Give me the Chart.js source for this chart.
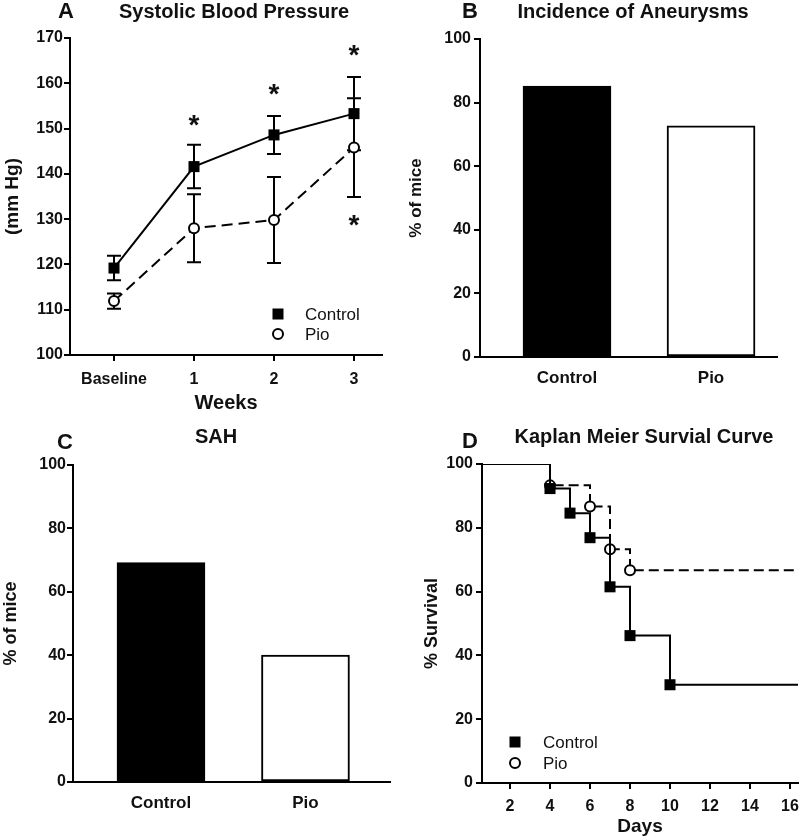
<!DOCTYPE html>
<html>
<head>
<meta charset="utf-8">
<script src="https://cdn.jsdelivr.net/npm/chart.js@4"></script>
<style>
  body { margin: 0; background: #fff; }
  #wrap { position: relative; width: 800px; height: 838px; }
  .panel { position: absolute; width: 400px; height: 419px; }
</style>
</head>
<body>
<div id="wrap">
  <div class="panel" style="left:0;top:0"><canvas id="chartA"></canvas></div>
  <div class="panel" style="left:400px;top:0"><canvas id="chartB"></canvas></div>
  <div class="panel" style="left:0;top:419px"><canvas id="chartC"></canvas></div>
  <div class="panel" style="left:400px;top:419px"><canvas id="chartD"></canvas></div>
</div>
<script>
// Panel A: systolic blood pressure
const weekLabels = ["Baseline", "1", "2", "3"];
const weekIdx = [0, 1, 2, 3];
const bpControl = [119.2, 141.6, 148.6, 153.3];
const bpControlErr = [2.7, 4.8, 4.2, 8.1];
const bpPio = [111.9, 128.0, 129.8, 145.8];
const bpPioErr = [1.7, 7.5, 9.5, 10.9];
const starWeek = [1, 2, 3, 3];
const starValue = [151.7, 158.7, 167.2, 129.8];

// Panels B and C: incidence bars
const groups = ["Control", "Pio"];
const aneurysmPct = [85.2, 72.7];
const sahPct = [69.2, 40.0];

// Panel D: Kaplan Meier
const kmControlDays = [0, 4, 5, 6, 7, 8, 10, 17];
const kmControlPct = [100, 92.3, 84.6, 76.9, 61.5, 46.2, 30.8, 30.8];
const kmPioDays = [0, 4, 6, 7, 8, 17];
const kmPioPct = [100, 93.3, 86.7, 73.3, 66.7, 66.7];
const dayTicks = [2, 4, 6, 8, 10, 12, 14, 16];

const FONT = "'Liberation Sans', Arial, sans-serif";
const INK = "#111";
Chart.defaults.font.family = FONT;
Chart.defaults.color = INK;
Chart.defaults.animation = false;
Chart.defaults.responsive = false;
Chart.defaults.plugins.legend.display = false;
Chart.defaults.plugins.tooltip.enabled = false;

function sized(id) {
  const c = document.getElementById(id);
  c.width = 400; c.height = 419;
  return c;
}

// fixes the axis box sizes so the plot area lands where the figure has it
function fitW(w) { return (s) => { s.width = w; s.paddingTop = 0; s.paddingBottom = 0; }; }
function fitH(h) { return (s) => { s.height = h; s.paddingLeft = 0; s.paddingRight = 0; }; }

const tickFont = { size: 16, weight: "bold" };
const titleFont = { size: 19, weight: "bold" };

function yAxis(min, max, step, width, title, tSize, tPad, lPad) {
  return {
    min, max,
    ticks: { stepSize: step, font: tickFont, padding: lPad, color: INK },
    grid: { drawOnChartArea: false, drawTicks: true, tickLength: 6, color: "#000", lineWidth: 2 },
    border: { color: "#000", width: 2 },
    title: { display: true, text: title, font: { size: tSize, weight: "bold" }, padding: { top: tPad, bottom: 0 } },
    afterFit: fitW(width),
  };
}

// text pieces: panel letters and titles
const textPlugin = {
  id: "panelText",
  afterDraw(chart, args, opts) {
    const ctx = chart.ctx;
    ctx.save();
    (opts.items || []).forEach((t) => {
      ctx.font = t.font;
      ctx.fillStyle = INK;
      ctx.textAlign = t.align || "center";
      ctx.textBaseline = "middle";
      ctx.fillText(t.text, t.x, t.y);
    });
    ctx.restore();
  },
};

// small legend inside the plot
const keyPlugin = {
  id: "keyBox",
  afterDraw(chart, args, opts) {
    if (!opts.rows) return;
    const ctx = chart.ctx;
    ctx.save();
    opts.rows.forEach((r, i) => {
      const y = opts.y + i * opts.gap;
      ctx.lineWidth = 2;
      ctx.strokeStyle = "#000";
      if (r.shape === "rect") {
        ctx.fillStyle = "#000";
        ctx.fillRect(opts.x - 5.5, y - 5.5, 11, 11);
      } else {
        ctx.fillStyle = "#fff";
        ctx.beginPath();
        ctx.arc(opts.x, y, 5, 0, Math.PI * 2);
        ctx.fill();
        ctx.stroke();
      }
      ctx.fillStyle = INK;
      ctx.font = "17px " + FONT;
      ctx.textAlign = "left";
      ctx.textBaseline = "middle";
      ctx.fillText(r.label, opts.x + opts.textGap, y + 1);
    });
    ctx.restore();
  },
};

// error bars and significance stars for panel A
const errorPlugin = {
  id: "errBars",
  beforeDatasetsDraw(chart) {
    const ctx = chart.ctx;
    const xs = chart.scales.x, ys = chart.scales.y;
    ctx.save();
    ctx.strokeStyle = "#000";
    ctx.lineWidth = 2;
    chart.data.datasets.forEach((ds) => {
      if (!ds.errors) return;
      ds.data.forEach((p, i) => {
        const px = xs.getPixelForValue(p.x);
        const top = ys.getPixelForValue(p.y + ds.errors[i]);
        const bot = ys.getPixelForValue(p.y - ds.errors[i]);
        ctx.beginPath();
        ctx.moveTo(px, top); ctx.lineTo(px, bot);
        ctx.moveTo(px - 7, top); ctx.lineTo(px + 7, top);
        ctx.moveTo(px - 7, bot); ctx.lineTo(px + 7, bot);
        ctx.stroke();
      });
    });
    ctx.restore();
  },
  afterDatasetsDraw(chart, args, opts) {
    if (!opts.starX) return;
    const ctx = chart.ctx;
    const xs = chart.scales.x, ys = chart.scales.y;
    ctx.save();
    ctx.font = "bold 28px " + FONT;
    ctx.fillStyle = INK;
    ctx.textAlign = "center";
    ctx.textBaseline = "alphabetic";
    const m = ctx.measureText("*");
    const shift = (m.actualBoundingBoxAscent - m.actualBoundingBoxDescent) / 2;
    opts.starX.forEach((w, i) => {
      ctx.fillText("*", xs.getPixelForValue(w), ys.getPixelForValue(opts.starY[i]) + shift);
    });
    ctx.restore();
  },
};

Chart.register(textPlugin, keyPlugin);

// ---------- A ----------
new Chart(sized("chartA"), {
  type: "line",
  data: {
    datasets: [
      {
        label: "Control",
        data: weekIdx.map((w, i) => ({ x: w, y: bpControl[i] })),
        errors: bpControlErr,
        borderColor: "#000", borderWidth: 2,
        pointStyle: "rect", pointRadius: 7.8,
        pointBackgroundColor: "#000", pointBorderColor: "#000", pointBorderWidth: 0,
      },
      {
        label: "Pio",
        data: weekIdx.map((w, i) => ({ x: w, y: bpPio[i] })),
        errors: bpPioErr,
        borderColor: "#000", borderWidth: 2, borderDash: [11, 6],
        pointStyle: "circle", pointRadius: 5,
        pointBackgroundColor: "#fff", pointBorderColor: "#000", pointBorderWidth: 2,
      },
    ],
  },
  options: {
    layout: { padding: { top: 38, right: 18, left: 0, bottom: 0 } },
    scales: {
      x: {
        type: "linear", min: -0.55, max: 3.35,
        afterBuildTicks: (s) => { s.ticks = weekIdx.map((v) => ({ value: v })); },
        ticks: { font: tickFont, padding: 9, color: INK, callback: (v) => weekLabels[v] },
        grid: { drawOnChartArea: false, drawTicks: true, tickLength: 6, color: "#000", lineWidth: 2 },
        border: { color: "#000", width: 2 },
        title: { display: true, text: "Weeks", font: { size: 20, weight: "bold" }, padding: { top: 0, bottom: 4 } },
        afterFit: fitH(64),
      },
      y: yAxis(100, 170, 10, 70, "(mm Hg)", 19, 1, 1),
    },
    plugins: {
      errBars: { starX: starWeek, starY: starValue },
      keyBox: { x: 278, y: 314, gap: 20, textGap: 27, rows: [{ shape: "rect", label: "Control" }, { shape: "circle", label: "Pio" }] },
      panelText: {
        items: [
          { text: "A", x: 66, y: 12, font: "bold 22px " + FONT },
          { text: "Systolic Blood Pressure", x: 234, y: 12, font: "bold 20px " + FONT },
        ],
      },
    },
  },
  plugins: [errorPlugin],
});

// ---------- bar panels ----------
function barPanel(id, values, box, letter, title, yTitleSize, yTitlePad, yLabelPad) {
  new Chart(sized(id), {
    type: "bar",
    data: {
      datasets: [
        {
          data: values.map((v, i) => ({ x: i, y: v })),
          backgroundColor: ["#000", "#fff"],
          borderColor: "#000",
          borderWidth: 2,
          borderSkipped: false,
          barThickness: 88,
        },
      ],
    },
    options: {
      layout: { padding: { top: box.top, right: 400 - box.right, left: 0, bottom: 0 } },
      scales: {
        x: {
          type: "linear", min: box.xmin, max: box.xmax, offset: false, bounds: "data",
          afterBuildTicks: (s) => { s.ticks = groups.map((g, i) => ({ value: i })); },
          ticks: { font: { size: 17, weight: "bold" }, padding: 11, color: INK, callback: (v) => groups[v] },
          grid: { display: false, drawTicks: false, offset: false },
          border: { color: "#000", width: 2 },
          afterFit: fitH(419 - box.bottom),
        },
        y: yAxis(0, 100, 20, box.left, "% of mice", yTitleSize, yTitlePad, yLabelPad),
      },
      plugins: { panelText: { items: [letter, title] } },
    },
  });
}

barPanel("chartB", aneurysmPct,
  { left: 80, right: 377, top: 39, bottom: 357, xmin: -0.604, xmax: 1.458 },
  { text: "B", x: 70, y: 12, font: "bold 22px " + FONT },
  { text: "Incidence of Aneurysms", x: 233, y: 12, font: "bold 20px " + FONT }, 17, 6, 3);

barPanel("chartC", sahPct,
  { left: 73, right: 390, top: 46, bottom: 363, xmin: -0.609, xmax: 1.585 },
  { text: "C", x: 65, y: 24, font: "bold 22px " + FONT },
  { text: "SAH", x: 216, y: 18, font: "bold 20px " + FONT }, 18, 0, 1);

// ---------- D ----------
new Chart(sized("chartD"), {
  type: "line",
  data: {
    datasets: [
      {
        label: "Control",
        data: kmControlDays.map((d, i) => ({ x: d, y: kmControlPct[i] })),
        stepped: "before",
        borderColor: "#000", borderWidth: 2,
        pointStyle: "rect",
        pointRadius: kmControlDays.map((d, i) => (i === 0 || i === kmControlDays.length - 1 ? 0 : 7.8)),
        pointBackgroundColor: "#000", pointBorderColor: "#000", pointBorderWidth: 0,
      },
      {
        label: "Pio",
        data: kmPioDays.map((d, i) => ({ x: d, y: kmPioPct[i] })),
        stepped: "before",
        borderColor: "#000", borderWidth: 2, borderDash: [10, 5],
        pointStyle: "circle",
        pointRadius: kmPioDays.map((d, i) => (i === 0 || i === kmPioDays.length - 1 ? 0 : 5)),
        pointBackgroundColor: "#fff", pointBorderColor: "#000", pointBorderWidth: 2,
      },
    ],
  },
  options: {
    layout: { padding: { top: 45, right: 2, left: 0, bottom: 0 } },
    scales: {
      x: {
        type: "linear", min: 0.6, max: 16.4,
        afterBuildTicks: (s) => { s.ticks = dayTicks.map((v) => ({ value: v })); },
        ticks: { font: tickFont, padding: 8, color: INK },
        grid: { drawOnChartArea: false, drawTicks: true, tickLength: 6, color: "#000", lineWidth: 2 },
        border: { color: "#000", width: 2 },
        title: { display: true, text: "Days", font: titleFont, padding: { top: 0, bottom: 0 } },
        afterFit: fitH(55),
      },
      y: yAxis(0, 100, 20, 82, "% Survival", 18, 21, 3),
    },
    plugins: {
      keyBox: { x: 115, y: 323, gap: 21, textGap: 28, rows: [{ shape: "rect", label: "Control" }, { shape: "circle", label: "Pio" }] },
      panelText: {
        items: [
          { text: "D", x: 70, y: 23, font: "bold 22px " + FONT },
          { text: "Kaplan Meier Survial Curve", x: 244, y: 18, font: "bold 20px " + FONT },
        ],
      },
    },
  },
});
</script>
</body>
</html>
